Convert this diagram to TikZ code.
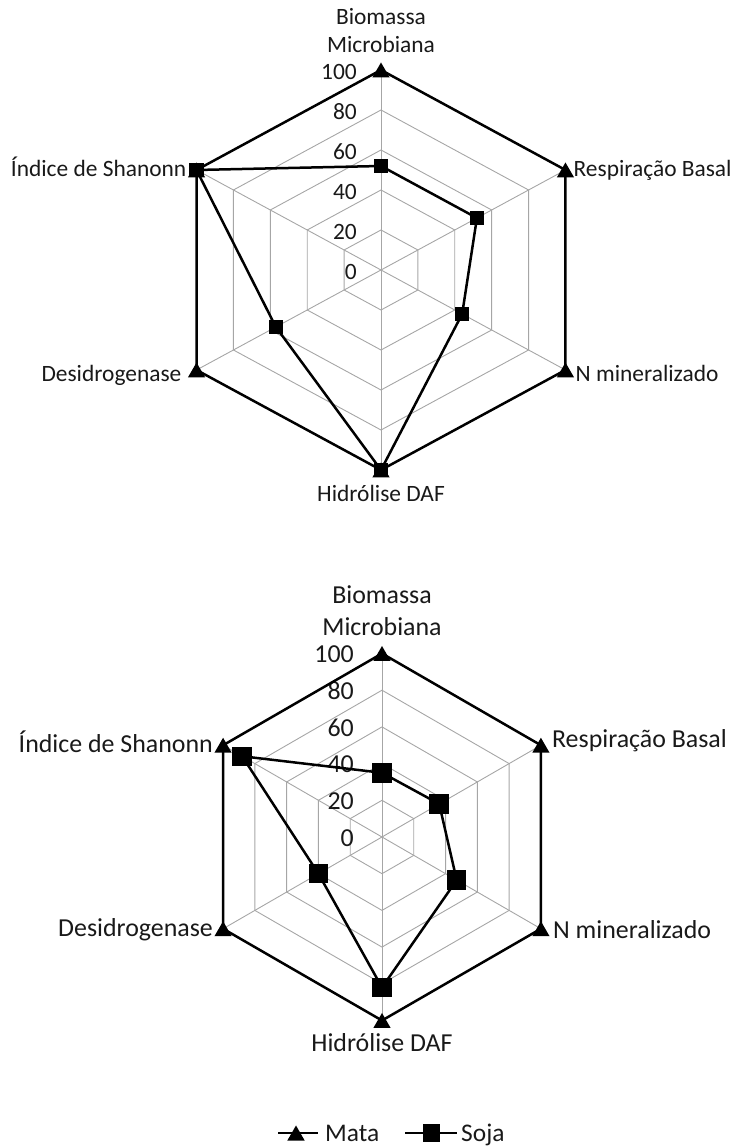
\documentclass[tikz,border=0pt]{standalone}
\usepackage{fontspec}
\setmainfont{Carlito}
\usepackage{tikz}
\usetikzlibrary{shapes.geometric}

\begin{document}
\begin{tikzpicture}[x=1bp, y=1bp,
  grade/.style={color=black!35, line width=0.9bp},
  serie/.style={color=black, line width=2.5bp, line join=miter},
  tri/.style={regular polygon, regular polygon sides=3, fill=black, inner sep=0pt, minimum size=20bp, yshift=-2.5bp},
  quad/.style={rectangle, fill=black, inner sep=0pt, minimum size=#1},
  rotulo/.style={text=black!90, inner sep=0pt}]
\useasboundingbox (0,0) rectangle (736,1147);

%%%%% Grafico 1 %%%%%
\begin{scope}[shift={(381,877)}, x=1.065bp, font=\fontsize{23.5}{29}\selectfont]
\foreach \k in {1,...,5}{
  \draw[grade] (90:{40*\k}) \foreach \i in {1,...,5}{ -- ({90-60*\i}:{40*\k})} -- cycle;
}
\coordinate (c1) at (0,0);
\foreach \i in {0,...,5}{
  \coordinate (b1-\i) at ({90-60*\i}:200);
  \draw[grade] (c1) -- (b1-\i);
}
\foreach \k in {0,...,5}{
  \pgfmathtruncatemacro{\val}{20*\k}
  \node[rotulo, anchor=east, xshift=-24bp, yshift=-2bp] (e1-\k) at (0,{40*\k}) {\val};
}
% Mata
\draw[serie] (b1-0) \foreach \i in {1,...,5}{ -- (b1-\i)} -- cycle;
\foreach \i in {0,...,5} \node[tri] (m1-\i) at (b1-\i) {};
% Soja
\foreach \i/\v in {0/52,1/52,2/44,3/100,4/57,5/100}
  \coordinate (s1-\i) at ({90-60*\i}:{2*\v});
\draw[serie] (s1-0) \foreach \i in {1,...,5}{ -- (s1-\i)} -- cycle;
\foreach \i in {0,...,5} \node[quad=14.5bp] (q1-\i) at (s1-\i) {};
% rotulos
\node[rotulo, align=center, yshift=39.5bp] (t1-0) at (b1-0) {Biomassa\\Microbiana};
\node[rotulo, anchor=west, xshift=8bp] (t1-1) at (b1-1) {Respiração Basal};
\node[rotulo, anchor=west, xshift=10bp, yshift=-3bp] (t1-2) at (b1-2) {N mineralizado};
\node[rotulo, yshift=-23bp] (t1-3) at (b1-3) {Hidrólise DAF};
\node[rotulo, anchor=east, xshift=-15bp, yshift=-5bp] (t1-4) at (b1-4) {Desidrogenase};
\node[rotulo, anchor=east, xshift=-10bp, yshift=3bp] (t1-5) at (b1-5) {Índice de Shanonn};
\end{scope}

%%%%% Grafico 2 %%%%%
\begin{scope}[shift={(382,310)}, font=\fontsize{26}{32}\selectfont]
\foreach \k in {1,...,5}{
  \draw[grade] (90:{36.7*\k}) \foreach \i in {1,...,5}{ -- ({90-60*\i}:{36.7*\k})} -- cycle;
}
\coordinate (c2) at (0,0);
\foreach \i in {0,...,5}{
  \coordinate (b2-\i) at ({90-60*\i}:183.5);
  \draw[grade] (c2) -- (b2-\i);
}
\foreach \k in {0,...,5}{
  \pgfmathtruncatemacro{\val}{20*\k}
  \node[rotulo, anchor=east, xshift=-28bp, yshift=-1bp] (e2-\k) at (0,{36.7*\k}) {\val};
}
% Mata
\draw[serie] (b2-0) \foreach \i in {1,...,5}{ -- (b2-\i)} -- cycle;
\foreach \i in {0,...,5} \node[tri] (m2-\i) at (b2-\i) {};
% Soja
\foreach \i/\v in {0/35,1/36,2/47,3/82,4/40,5/88}
  \coordinate (s2-\i) at ({90-60*\i}:{1.835*\v});
\draw[serie] (s2-0) \foreach \i in {1,...,5}{ -- (s2-\i)} -- cycle;
\foreach \i in {0,...,5} \node[quad=19.5bp] (q2-\i) at (s2-\i) {};
% rotulos
\node[rotulo, align=center, yshift=42.5bp] (t2-0) at (b2-0) {Biomassa\\Microbiana};
\node[rotulo, anchor=west, xshift=11bp, yshift=5bp] (t2-1) at (b2-1) {Respiração Basal};
\node[rotulo, anchor=west, xshift=12bp, yshift=-1bp] (t2-2) at (b2-2) {N mineralizado};
\node[rotulo, yshift=-22.5bp] (t2-3) at (b2-3) {Hidrólise DAF};
\node[rotulo, anchor=east, xshift=-10bp, yshift=-1bp] (t2-4) at (b2-4) {Desidrogenase};
\node[rotulo, anchor=east, xshift=-10bp, yshift=3bp] (t2-5) at (b2-5) {Índice de Shanonn};
\end{scope}

%%%%% Legenda %%%%%
\begin{scope}[font=\fontsize{25.5}{30}\selectfont]
\coordinate (l1a) at (278,14);
\coordinate (l1b) at (318,14);
\coordinate (l2a) at (405,14);
\coordinate (l2b) at (457,14);
\draw[serie] (l1a) -- (l1b);
\node[tri] (lm) at (296,14) {};
\node[rotulo, anchor=base west] (lmata) at (325,5.5) {Mata};
\draw[serie] (l2a) -- (l2b);
\node[quad=17bp] (ls) at (431,14) {};
\node[rotulo, anchor=base west] (lsoja) at (461,5.5) {Soja};
\end{scope}
\end{tikzpicture}
\end{document}
